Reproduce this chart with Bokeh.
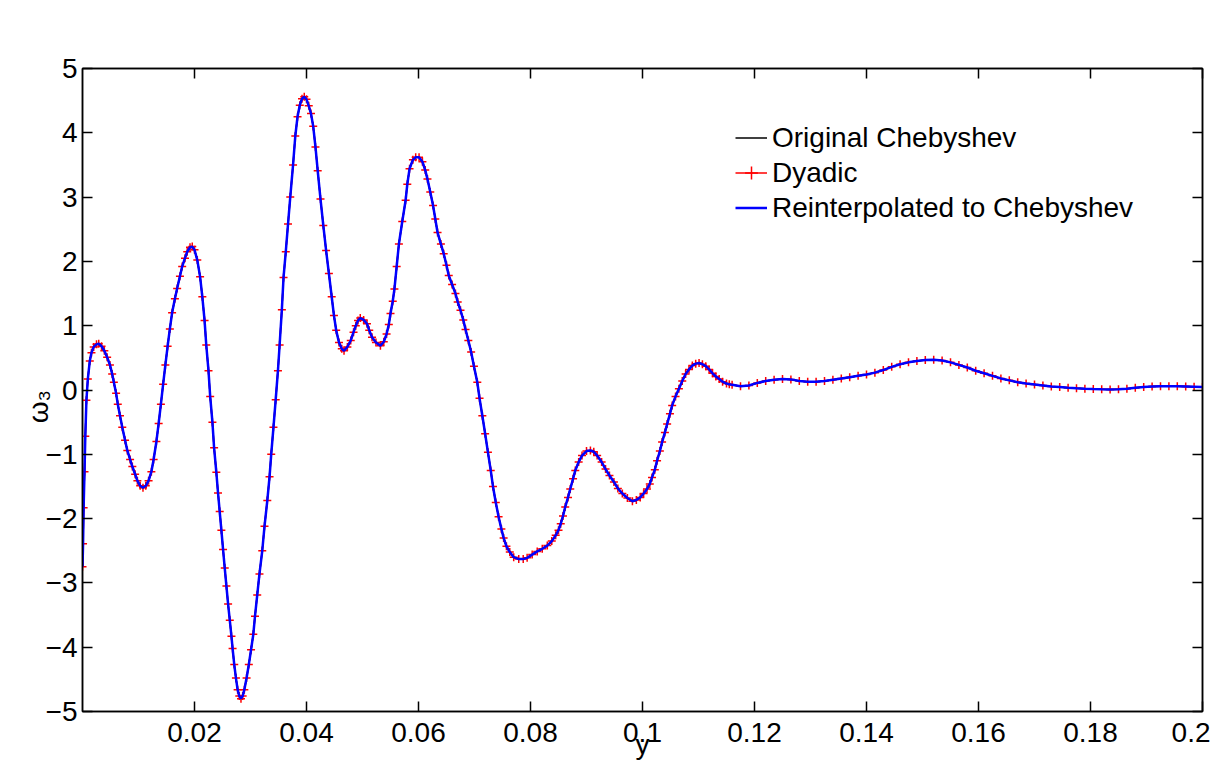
from bokeh.plotting import figure
from bokeh.models import LinearAxis, FixedTicker, Legend, LegendItem, Range1d
from bokeh.embed import file_html
from bokeh.resources import INLINE
import math

# ---- data ----
y_pos = [0.0000, 0.0001, 0.0002, 0.00036, 0.0005, 0.0007, 0.00095, 0.0013, 0.0016, 0.0020,
         0.0025, 0.0029, 0.0034, 0.0039, 0.0044, 0.0049, 0.0053, 0.0056, 0.0060, 0.0063,
         0.0067, 0.0071, 0.0076, 0.0080, 0.0085, 0.0089, 0.0094, 0.0098, 0.0103, 0.0108,
         0.0113, 0.0118, 0.0123, 0.0127, 0.0132, 0.0136, 0.0140, 0.0144, 0.0148, 0.0152,
         0.0156, 0.0160, 0.0165, 0.0169, 0.0174, 0.0178, 0.0183, 0.0187, 0.0192, 0.0196,
         0.0200, 0.0205, 0.0210, 0.0214, 0.0218, 0.0221, 0.0225, 0.0228, 0.0232, 0.0235,
         0.0239, 0.0242, 0.0245, 0.0248, 0.0251, 0.0254, 0.0257, 0.0260, 0.0263, 0.0266,
         0.0268, 0.0271, 0.0274, 0.0277, 0.0280, 0.0283, 0.0286, 0.0289, 0.0293, 0.0297,
         0.0301, 0.0305, 0.0308, 0.0312, 0.0316, 0.0321, 0.0325, 0.0330, 0.0334, 0.0337,
         0.0341, 0.0345, 0.0349, 0.0352, 0.0356, 0.0359, 0.0363, 0.0367, 0.0371, 0.0376,
         0.0380, 0.0384, 0.0388, 0.0392, 0.0396, 0.0400, 0.0404, 0.0408, 0.0412, 0.0416,
         0.0420, 0.0425, 0.0430, 0.0435, 0.0440, 0.0445, 0.0449, 0.0453, 0.0458, 0.0463,
         0.0467, 0.0473, 0.0479, 0.0484, 0.0488, 0.0492, 0.0496, 0.0502, 0.0508, 0.0512,
         0.0517, 0.0524, 0.0532, 0.0538, 0.0543, 0.0547, 0.0550, 0.0554, 0.0557, 0.0561,
         0.0565, 0.0571, 0.0577, 0.0580, 0.0584, 0.0590, 0.0595, 0.0601, 0.0607, 0.0612,
         0.0616, 0.0621, 0.0626, 0.0630, 0.0634, 0.0640, 0.0645, 0.0650, 0.0654, 0.0660,
         0.0666, 0.0670, 0.0675, 0.0680, 0.0684, 0.0689, 0.0694, 0.0699, 0.0705, 0.0709,
         0.0714, 0.0719, 0.0724, 0.0729, 0.0733, 0.0738, 0.0743, 0.0748, 0.0752, 0.0757,
         0.0763, 0.0770, 0.0779, 0.0787, 0.0794, 0.0803, 0.0812, 0.0821, 0.0830, 0.0838,
         0.0845, 0.0850, 0.0854, 0.0858, 0.0862, 0.0867, 0.0871, 0.0876, 0.0880, 0.0886,
         0.0892, 0.0900, 0.0907, 0.0913, 0.0919, 0.0927, 0.0934, 0.0941, 0.0949, 0.0956,
         0.0964, 0.0973, 0.0982, 0.0989, 0.0996, 0.1002, 0.1008, 0.1013, 0.1017, 0.1022,
         0.1026, 0.1031, 0.1035, 0.1040, 0.1044, 0.1049, 0.1053, 0.1059, 0.1065, 0.1071,
         0.1077, 0.1083, 0.1089, 0.1095, 0.1101, 0.1107, 0.1113, 0.1119, 0.1125, 0.1131,
         0.1137, 0.1143, 0.1150, 0.1155, 0.1160, 0.1175, 0.1190, 0.1205, 0.1220, 0.1235,
         0.1250, 0.1265, 0.1280, 0.1295, 0.1310, 0.1325, 0.1340, 0.1355, 0.1370, 0.1385,
         0.1400, 0.1415, 0.1430, 0.1445, 0.1460, 0.1475, 0.1490, 0.1505, 0.1520, 0.1535,
         0.1550, 0.1565, 0.1580, 0.1595, 0.1610, 0.1625, 0.1640, 0.1655, 0.1670, 0.1685,
         0.1700, 0.1715, 0.1730, 0.1745, 0.1760, 0.1775, 0.1790, 0.1805, 0.1820, 0.1835,
         0.1850, 0.1865, 0.1880, 0.1895, 0.1910, 0.1925, 0.1940, 0.1955, 0.1970, 0.1985,
         0.2000]
omega3 = [-2.75, -2.39, -1.83, -1.27, -0.72, -0.16, 0.17, 0.45, 0.58, 0.67,
          0.71, 0.72, 0.68, 0.61, 0.51, 0.39, 0.25, 0.12, -0.05, -0.22,
          -0.40, -0.58, -0.78, -0.94, -1.08, -1.19, -1.31, -1.41, -1.49, -1.52,
          -1.49, -1.41, -1.27, -1.08, -0.80, -0.52, -0.22, 0.09, 0.39, 0.68,
          0.95, 1.20, 1.42, 1.58, 1.77, 1.92, 2.05, 2.15, 2.22, 2.23,
          2.18, 2.02, 1.76, 1.45, 1.08, 0.70, 0.30, -0.10, -0.50, -0.90,
          -1.28, -1.60, -1.89, -2.18, -2.48, -2.77, -3.05, -3.33, -3.58, -3.83,
          -4.02, -4.27, -4.48, -4.66, -4.76, -4.80, -4.76, -4.66, -4.48, -4.27,
          -4.04, -3.80, -3.52, -3.19, -2.86, -2.50, -2.12, -1.72, -1.35, -1.00,
          -0.58, -0.15, 0.30, 0.70, 1.25, 1.75, 2.15, 2.58, 3.00, 3.50,
          3.95, 4.25, 4.43, 4.53, 4.56, 4.52, 4.42, 4.30, 4.10, 3.78,
          3.41, 2.97, 2.56, 2.17, 1.81, 1.45, 1.16, 0.93, 0.74, 0.64,
          0.61, 0.67, 0.77, 0.90, 1.00, 1.08, 1.12, 1.09, 1.03, 0.93,
          0.82, 0.74, 0.69, 0.75, 0.87, 1.02, 1.19, 1.38, 1.57, 1.92,
          2.27, 2.62, 2.95, 3.20, 3.44, 3.58, 3.62, 3.62, 3.55, 3.42,
          3.28, 3.08, 2.87, 2.66, 2.45, 2.27, 2.12, 1.94, 1.78, 1.64,
          1.50, 1.37, 1.24, 1.09, 0.94, 0.77, 0.59, 0.37, 0.12, -0.13,
          -0.40, -0.68, -0.97, -1.25, -1.50, -1.75, -1.97, -2.16, -2.30, -2.43,
          -2.52, -2.60, -2.63, -2.63, -2.61, -2.56, -2.51, -2.47, -2.42, -2.35,
          -2.26, -2.18, -2.08, -1.96, -1.82, -1.67, -1.54, -1.38, -1.25, -1.12,
          -1.02, -0.95, -0.94, -0.96, -1.02, -1.12, -1.23, -1.33, -1.43, -1.53,
          -1.61, -1.68, -1.73, -1.71, -1.67, -1.61, -1.54, -1.46, -1.36, -1.24,
          -1.10, -0.95, -0.81, -0.66, -0.53, -0.37, -0.24, -0.10, 0.02, 0.14,
          0.25, 0.32, 0.38, 0.41, 0.42, 0.40, 0.37, 0.32, 0.26, 0.21,
          0.17, 0.13, 0.10, 0.088, 0.08, 0.06, 0.07, 0.11, 0.14, 0.16,
          0.17, 0.165, 0.14, 0.13, 0.13, 0.14, 0.16, 0.18, 0.20, 0.22,
          0.24, 0.27, 0.31, 0.36, 0.40, 0.43, 0.45, 0.465, 0.47, 0.46,
          0.43, 0.39, 0.35, 0.30, 0.26, 0.22, 0.18, 0.15, 0.12, 0.10,
          0.085, 0.07, 0.055, 0.045, 0.035, 0.027, 0.02, 0.014, 0.01, 0.008,
          0.01, 0.02, 0.035, 0.047, 0.055, 0.06, 0.06, 0.058, 0.055, 0.05,
          0.045]

x_ticks = [0.02, 0.04, 0.06, 0.08, 0.1, 0.12, 0.14, 0.16, 0.18, 0.2]
x_tick_labels = ["0.02", "0.04", "0.06", "0.08", "0.1", "0.12", "0.14", "0.16", "0.18", "0.2"]
y_ticks = [-5, -4, -3, -2, -1, 0, 1, 2, 3, 4, 5]
y_tick_labels = ["\u22125", "\u22124", "\u22123", "\u22122", "\u22121", "0", "1", "2", "3", "4", "5"]
series_names = ["Original Chebyshev", "Dyadic", "Reinterpolated to Chebyshev"]
x_label = "y"
y_label = "\u03c9\u2083"

FONT = "Liberation Sans"

p = figure(width=1210, height=773, x_range=Range1d(0, 0.2), y_range=Range1d(-5, 5),
           output_backend="svg", toolbar_location=None,
           min_border_left=82, min_border_right=8, min_border_top=68, min_border_bottom=62)
p.grid.visible = False
p.outline_line_color = "black"
p.outline_line_width = 1.5
p.background_fill_color = "white"
p.border_fill_color = "white"

p.add_layout(LinearAxis(), "above")
p.add_layout(LinearAxis(), "right")

for ax in p.xaxis:
    ax.ticker = FixedTicker(ticks=x_ticks)
    ax.major_label_overrides = {t: s for t, s in zip(x_ticks, x_tick_labels)}
for ax in p.yaxis:
    ax.ticker = FixedTicker(ticks=y_ticks)
    ax.major_label_overrides = {t: s for t, s in zip(y_ticks, y_tick_labels)}

for ax in p.xaxis + p.yaxis:
    ax.axis_line_color = "black"
    ax.axis_line_width = 1.5
    ax.major_tick_in = 10
    ax.major_tick_out = 0
    ax.major_tick_line_color = "black"
    ax.major_tick_line_width = 1.5
    ax.minor_tick_line_color = None
    ax.major_label_text_font = FONT
    ax.major_label_text_font_size = "28px"
    ax.major_label_text_color = "black"

for ax in p.above + p.right:
    ax.major_label_text_font_size = "1px"
    ax.major_label_text_color = None

bottom = p.below[0]
bottom.major_label_standoff = 11
bottom.axis_label = x_label
bottom.axis_label_text_font = FONT
bottom.axis_label_text_font_size = "28px"
bottom.axis_label_text_font_style = "normal"
bottom.axis_label_text_color = "black"
bottom.axis_label_standoff = -16

left = p.left[0]
left.major_label_standoff = 5
left.axis_label = y_label
left.axis_label_orientation = math.pi / 2
left.axis_label_text_font = FONT
left.axis_label_text_font_size = "28px"
left.axis_label_text_font_style = "normal"
left.axis_label_text_color = "black"
left.axis_label_standoff = 4

r_black = p.line(y_pos, omega3, line_color="black", line_width=1.5)
r_red = p.line(y_pos, omega3, line_color="red", line_width=1.5)
r_red_m = p.scatter(y_pos, omega3, marker="cross", size=8, line_color="red", line_width=1.5)
r_blue = p.line(y_pos, omega3, line_color="blue", line_width=2.5)

legend = Legend(items=[LegendItem(label=series_names[0], renderers=[r_black]),
                       LegendItem(label=series_names[1], renderers=[r_red, r_red_m]),
                       LegendItem(label=series_names[2], renderers=[r_blue])],
                location=(653, 486), border_line_color=None, background_fill_alpha=0,
                padding=0, margin=0, spacing=0, glyph_width=32, glyph_height=35,
                label_height=35, label_standoff=5,
                label_text_font=FONT, label_text_font_size="28px", label_text_color="black")
p.add_layout(legend)

open("out.html", "w").write(file_html(p, INLINE))
